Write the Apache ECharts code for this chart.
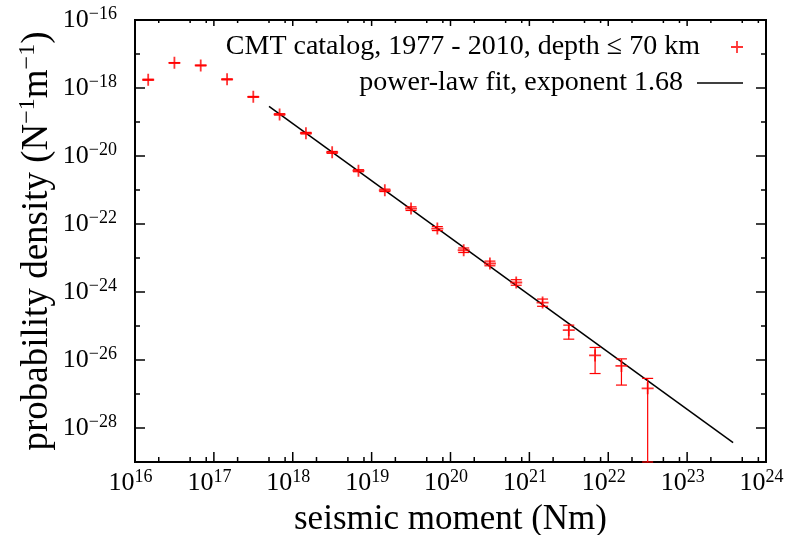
<!DOCTYPE html>
<html>
<head>
<meta charset="utf-8">
<script src="https://cdn.jsdelivr.net/npm/echarts@6/dist/echarts.min.js"></script>
<style>
  html, body { margin: 0; padding: 0; background: #fff; }
  #chart { width: 786px; height: 535px; }
</style>
</head>
<body>
<div id="chart"></div>
<script>
// seismic moment bins (Nm)
const momentBins = [1.47e16, 3.16e16, 6.81e16, 1.47e17, 3.16e17, 6.81e17, 1.47e18, 3.16e18, 6.81e18, 1.47e19,
  3.16e19, 6.81e19, 1.47e20, 3.16e20, 6.81e20, 1.47e21, 3.16e21, 6.81e21, 1.47e22, 3.16e22];
// probability density (N^-1 m^-1)
const density = [1.75e-18, 5.5e-18, 4.6e-18, 1.8e-18, 5.5e-19, 1.67e-19, 4.7e-20, 1.28e-20, 3.7e-21, 9.8e-22,
  2.85e-22, 7.35e-23, 1.69e-23, 6.9e-24, 1.9e-24, 4.9e-25, 7.55e-26, 1.36e-26, 6.7e-27, 1.47e-27];
const errLow = [1.7e-18, 5.4e-18, 4.5e-18, 1.75e-18, 5.35e-19, 1.6e-19, 4.45e-20, 1.2e-20, 3.45e-21, 9.0e-22,
  2.5e-22, 6.4e-23, 1.45e-23, 5.9e-24, 1.58e-24, 3.8e-25, 4.1e-26, 4.0e-27, 1.83e-27, 1e-29];
const errHigh = [1.8e-18, 5.6e-18, 4.7e-18, 1.85e-18, 5.65e-19, 1.75e-19, 4.95e-20, 1.36e-20, 3.95e-21, 1.06e-21,
  3.2e-22, 8.4e-23, 1.97e-23, 8.1e-24, 2.3e-24, 6.2e-25, 1.06e-25, 2.34e-26, 1.08e-26, 2.88e-27];
// power-law fit, exponent 1.68
const fitMoment = [5.0e17, 3.83e23];
const fitDensity = [2.9e-19, 3.7e-29];
// ticks
const xTickExp = [16, 17, 18, 19, 20, 21, 22, 23, 24];
const xMinorMant = [2, 5, 8];
const yTickExp = [-29, -28, -27, -26, -25, -24, -23, -22, -21, -20, -19, -18, -17, -16];

const scatterName = "CMT catalog, 1977 - 2010, depth \u2264 70 km";
const fitName = "power-law fit, exponent 1.68";
const FONT = "Liberation Serif";
const xMin = 1e16, xMax = 1e24, yMin = 1e-29, yMax = 1e-16;
const plusPath = "path://M0,5.1H12V6.9H0Z M5.1,0H6.9V12H5.1Z";
const linePath = "path://M0,5.25H46V6.75H0Z";

function expText(e) {
  return e < 0 ? "\u2212" + (-e) : "" + e;
}

// 刻度线: [x, y, side(0 下 1 上 2 左 3 右), len]
const tickList = [];
xTickExp.forEach((e) => {
  const v = Math.pow(10, e);
  tickList.push([v, yMin, 0, 10]);
  tickList.push([v, yMax, 1, 6]);
  if (e < 24) {
    xMinorMant.forEach((m) => {
      tickList.push([m * v, yMin, 0, 5]);
      tickList.push([m * v, yMax, 1, 3]);
    });
  }
});
yTickExp.forEach((e) => {
  const v = Math.pow(10, e);
  const len = e % 2 === 0 ? 10 : 5;
  tickList.push([xMin, v, 2, len]);
  tickList.push([xMax, v, 3, len]);
});

const errData = momentBins.map((m, i) => [m, errLow[i], errHigh[i]]);

const legendText = {
  fontFamily: FONT, fontSize: 28, lineHeight: 28, color: "#000",
  rich: { t: { fontFamily: FONT, fontSize: 28, lineHeight: 28, color: "#000", padding: [0, 9, 0, 0] } },
};

const chart = echarts.init(document.getElementById("chart"));
const option = {
  animation: false,
  textStyle: { fontFamily: FONT, color: "#000" },
  grid: {
    left: 135, right: 20, top: 20, bottom: 73,
    show: true, borderColor: "#000", borderWidth: 2,
    containLabel: false, outerBoundsMode: "none",
  },
  legend: [
    {
      data: [{ name: scatterName, icon: plusPath }],
      right: 38, top: 28, align: "right",
      itemWidth: 46, itemHeight: 12,
      selectedMode: false,
      formatter: (n) => "{t|" + n + "}",
      textStyle: legendText,
    },
    {
      data: [{ name: fitName, icon: linePath }],
      right: 38, top: 64, align: "right",
      itemWidth: 46, itemHeight: 12,
      selectedMode: false,
      formatter: (n) => "{t|" + n + "}",
      textStyle: legendText,
    },
  ],
  xAxis: {
    type: "log", logBase: 10, min: xMin, max: xMax, interval: 1, splitNumber: 8,
    name: "seismic moment (Nm)", nameLocation: "middle", nameGap: 40, nameMoveOverlap: false,
    nameTextStyle: { fontFamily: FONT, fontSize: 35, color: "#000" },
    axisLine: { show: false }, axisTick: { show: false }, splitLine: { show: false },
    axisLabel: {
      margin: 6, padding: [0, 9, 0, 0], color: "#000",
      formatter: (v) => "{b|10}{s|" + expText(Math.round(Math.log10(v))) + "}",
      rich: {
        b: { fontFamily: FONT, fontSize: 26, lineHeight: 30, color: "#000" },
        s: { fontFamily: FONT, fontSize: 18, lineHeight: 18, verticalAlign: "top", color: "#000" },
      },
    },
  },
  yAxis: {
    type: "log", logBase: 10, min: yMin, max: yMax, interval: 1, splitNumber: 13,
    name: "{a|probability density (N}{s|\u22121}{a|m}{s|\u22121}{a|)}",
    nameLocation: "middle", nameGap: 77, nameRotate: 90, nameMoveOverlap: false,
    nameTextStyle: {
      fontFamily: FONT, fontSize: 37, color: "#000",
      rich: {
        a: { fontFamily: FONT, fontSize: 37, lineHeight: 42, color: "#000" },
        s: { fontFamily: FONT, fontSize: 24, lineHeight: 24, verticalAlign: "top", color: "#000" },
      },
    },
    axisLine: { show: false }, axisTick: { show: false }, splitLine: { show: false },
    axisLabel: {
      margin: 18, color: "#000",
      formatter: (v) => {
        const e = Math.round(Math.log10(v));
        return e % 2 === 0 ? "{b|10}{s|" + expText(e) + "}" : "";
      },
      rich: {
        b: { fontFamily: FONT, fontSize: 26, lineHeight: 30, color: "#000" },
        s: { fontFamily: FONT, fontSize: 18, lineHeight: 18, verticalAlign: "top", color: "#000" },
      },
    },
  },
  series: [
    {
      type: "custom",
      name: "ticks",
      silent: true,
      clip: false,
      data: tickList.map((t) => [t[0], t[1]]),
      renderItem: (params, api) => {
        const t = tickList[params.dataIndex];
        const p = api.coord([t[0], t[1]]);
        const d = [[0, -1], [0, 1], [1, 0], [-1, 0]][t[2]];
        return {
          type: "line",
          shape: { x1: p[0], y1: p[1], x2: p[0] + d[0] * t[3], y2: p[1] + d[1] * t[3] },
          style: { stroke: "#000", lineWidth: 1.5 },
        };
      },
      z: 5,
    },
    {
      type: "custom",
      name: "errors",
      silent: true,
      clip: false,
      data: errData,
      encode: { x: 0, y: [1, 2] },
      renderItem: (params, api) => {
        const x = api.value(0);
        const pLo = api.coord([x, api.value(1)]);
        const pHi = api.coord([x, api.value(2)]);
        const cw = 5.5;
        const st = { stroke: "#ff0000", lineWidth: 1.2 };
        return {
          type: "group",
          children: [
            { type: "line", shape: { x1: pLo[0], y1: pLo[1], x2: pHi[0], y2: pHi[1] }, style: st },
            { type: "line", shape: { x1: pLo[0] - cw, y1: pLo[1], x2: pLo[0] + cw, y2: pLo[1] }, style: st },
            { type: "line", shape: { x1: pHi[0] - cw, y1: pHi[1], x2: pHi[0] + cw, y2: pHi[1] }, style: st },
          ],
        };
      },
      z: 3,
    },
    {
      type: "scatter",
      name: scatterName,
      data: momentBins.map((m, i) => [m, density[i]]),
      symbol: plusPath,
      symbolSize: 12,
      itemStyle: { color: "#ff0000" },
      z: 4,
    },
    {
      type: "line",
      name: fitName,
      data: fitMoment.map((m, i) => [m, fitDensity[i]]),
      symbol: "none",
      showSymbol: false,
      lineStyle: { color: "#000", width: 1.5 },
      itemStyle: { color: "#000" },
      z: 2,
    },
  ],
};
chart.setOption(option);
</script>
</body>
</html>
